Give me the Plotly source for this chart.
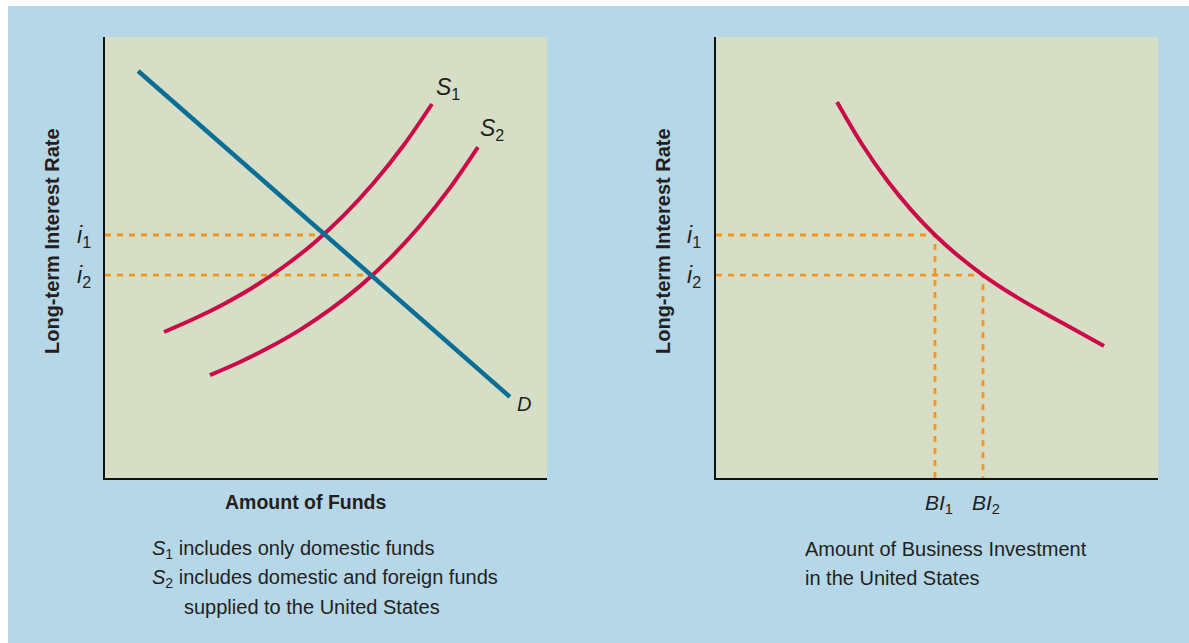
import plotly.graph_objects as go

W, H = 1189, 643

# ---- data (abstract units, 0-10 scales) ----
d_x = [0.75, 9.16]
d_y = [9.23, 1.84]
s1_x = [1.335, 2.014, 2.692, 3.371, 4.050, 4.729, 5.407, 6.086, 6.765, 7.398]
s1_y = [3.311, 3.610, 3.948, 4.338, 4.796, 5.331, 5.961, 6.701, 7.558, 8.481]
s2_x = [2.375, 3.054, 3.732, 4.411, 5.090, 5.769, 6.447, 7.126, 7.805, 8.438]
s2_y = [2.331, 2.630, 2.968, 3.358, 3.816, 4.351, 4.981, 5.721, 6.578, 7.501]
i_levels = [5.51, 4.60]          # i1, i2
funds_at_i = [4.97, 6.03]        # demand meets S1, S2
bi_x = [2.738, 3.303, 3.869, 4.434, 4.955, 5.452, 6.041, 6.697, 7.376, 8.054, 8.778]
bi_y = [8.526, 7.569, 6.751, 6.057, 5.510, 5.061, 4.603, 4.166, 3.769, 3.395, 2.993]
bi_levels = [4.955, 6.041]       # BI1, BI2

BLUE_BG = "#b6d7e7"
PANEL = "#d6dfc5"
DCOL = "#0b6e96"
SCOL = "#cc0a4a"
ORANGE = "#f7941d"
TXT = "#231f20"
FONT = "Liberation Sans Narrow, Arial Narrow, Liberation Sans, Arial"

fig = go.Figure()
dash = dict(color=ORANGE, width=2.8, dash="6px,6px")

# left panel dashed guides
for lv, fx in zip(i_levels, funds_at_i):
    fig.add_trace(go.Scatter(x=[0, fx], y=[lv, lv], mode="lines", line=dash,
                             xaxis="x", yaxis="y", hoverinfo="skip"))
# right panel dashed guides
for lv, bx in zip(i_levels, bi_levels):
    fig.add_trace(go.Scatter(x=[0, bx, bx], y=[lv, lv, 0], mode="lines", line=dash,
                             xaxis="x2", yaxis="y2", hoverinfo="skip"))

fig.add_trace(go.Scatter(x=s1_x, y=s1_y, mode="lines", line=dict(color=SCOL, width=4, shape="spline"),
                         xaxis="x", yaxis="y"))
fig.add_trace(go.Scatter(x=s2_x, y=s2_y, mode="lines", line=dict(color=SCOL, width=4, shape="spline"),
                         xaxis="x", yaxis="y"))
fig.add_trace(go.Scatter(x=d_x, y=d_y, mode="lines", line=dict(color=DCOL, width=4.5),
                         xaxis="x", yaxis="y"))
fig.add_trace(go.Scatter(x=bi_x, y=bi_y, mode="lines", line=dict(color=SCOL, width=4, shape="spline"),
                         xaxis="x2", yaxis="y2"))


def px(x):
    return x / W


def py(y):
    return 1 - y / H


ax = dict(range=[0, 10], showgrid=False, zeroline=False, showticklabels=False, ticks="",
          showline=True, linecolor="#111111", linewidth=2, fixedrange=True)
white = dict(fillcolor="white", line=dict(width=0), layer="below", xref="paper", yref="paper", type="rect")
fig.update_layout(
    width=W, height=H, margin=dict(l=0, r=0, t=0, b=0),
    paper_bgcolor=BLUE_BG, plot_bgcolor=PANEL, showlegend=False,
    xaxis=dict(ax, domain=[px(105), px(547)], anchor="y"),
    yaxis=dict(ax, domain=[1 - 478 / H, 1 - 37 / H], anchor="x"),
    xaxis2=dict(ax, domain=[px(716), px(1158)], anchor="y2"),
    yaxis2=dict(ax, domain=[1 - 478 / H, 1 - 37 / H], anchor="x2"),
    font=dict(family=FONT, color=TXT),
    shapes=[dict(white, x0=0, x1=px(8), y0=0, y1=1),
            dict(white, x0=0, x1=1, y0=py(6), y1=1)],
)


def ann(text, x, y, size=18, xanchor="center", yanchor="middle", bold=False, angle=0):
    fig.add_annotation(text=f"<b>{text}</b>" if bold else text, x=px(x), y=py(y),
                       xref="paper", yref="paper", showarrow=False, xanchor=xanchor,
                       yanchor=yanchor, textangle=angle,
                       font=dict(size=size, family=FONT, color=TXT))


# axis titles
ann("Long-term Interest Rate", 52, 241, size=20, bold=True, angle=-90)
ann("Long-term Interest Rate", 663, 241, size=20, bold=True, angle=-90)
ann("Amount of Funds", 306, 502, size=19.5, bold=True)

# tick-like labels
for lab, yy in (("1", 236), ("2", 276)):
    ann(f"<i>i</i><sub>{lab}</sub>", 84, yy, size=23)
    ann(f"<i>i</i><sub>{lab}</sub>", 694, yy, size=23)
ann("<i>BI</i><sub>1</sub>", 939, 504, size=21)
ann("<i>BI</i><sub>2</sub>", 986, 504, size=21)

# curve labels
ann("<i>S</i><sub>1</sub>", 448, 89, size=23)
ann("<i>S</i><sub>2</sub>", 492, 129, size=23)
ann("<i>D</i>", 524, 404, size=20)

# captions
ann("<i>S</i><sub>1</sub> includes only domestic funds", 150, 549, size=20, xanchor="left")
ann("<i>S</i><sub>2</sub> includes domestic and foreign funds", 150, 578, size=20, xanchor="left")
ann("supplied to the United States", 182, 607, size=20, xanchor="left")
ann("Amount of Business Investment", 803, 549, size=20, xanchor="left")
ann("in the United States", 803, 578, size=20, xanchor="left")

fig.write_html("out.html", config={"displayModeBar": False},
               post_script="document.body.style.margin='0';document.body.style.overflow='hidden';")
